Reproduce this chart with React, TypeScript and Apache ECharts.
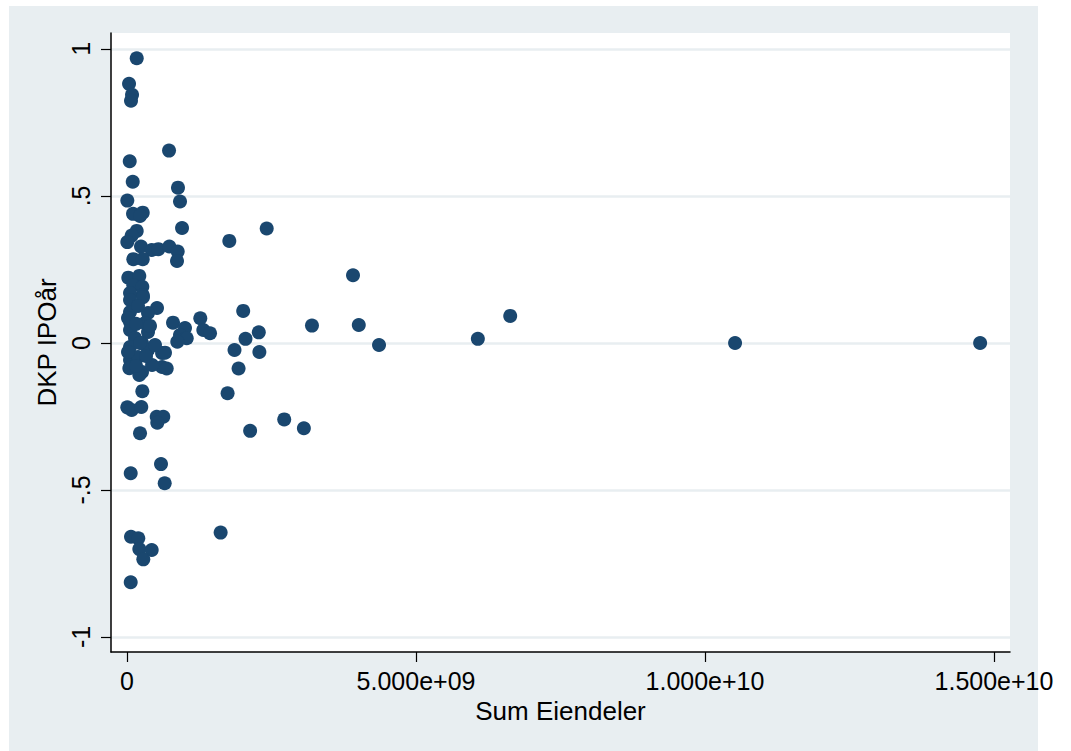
import React, { useEffect, useRef } from "react";
import * as echarts from "echarts";

const xValues: number[] = [
  1.68e8, 0.35e8, 0.87e8, 0.69e8, 7.27e8, 0.47e8, 0.99e8, 8.82e8, 0.05e8, 9.17e8,
  1.04e8, 2.72e8, 2.25e8, 9.52e8, 24.17e8, 1.68e8, 0.81e8, 0.05e8, 17.7e8, 2.42e8,
  4.27e8, 5.42e8, 7.32e8, 8.77e8, 8.65e8, 1.09e8, 2.72e8, 0.22e8, 2.13e8, 1.09e8,
  2.65e8, 2.72e8, 0.52e8, 39.1e8, 0.52e8, 2.77e8, 0.52e8, 5.19e8, 3.63e8, 20.1e8,
  0.52e8, 3.11e8, 7.96e8, 12.68e8, 32.0e8, 40.1e8, 66.3e8, 10.03e8, 9.17e8, 13.2e8,
  14.36e8, 0.52e8, 3.63e8, 1.38e8, 22.8e8, 20.5e8, 10.33e8, 8.7e8, 60.7e8, 43.6e8,
  105.2e8, 147.6e8, 0.52e8, 2.6e8, 3.63e8, 6.06e8, 0.52e8, 1.9e8, 0.52e8, 2.6e8,
  6.06e8, 4.33e8, 18.6e8, 22.9e8, 6.57e8, 19.3e8, 6.87e8, 0.4e8, 2.13e8, 2.65e8,
  17.4e8, 0.05e8, 0.81e8, 2.47e8, 5.14e8, 6.28e8, 5.24e8, 27.2e8, 21.3e8, 30.6e8,
  2.25e8, 5.88e8, 0.64e8, 6.52e8, 16.2e8, 0.69e8, 1.95e8, 2.13e8, 4.27e8, 2.82e8,
  0.64e8, 0.17e8, 1.56e8, 3.29e8, 4.84e8, 0.17e8, 1.9e8, 1.56e8, 2.25e8, 3.98e8,
];

const yValues: number[] = [
  0.968, 0.881, 0.844, 0.824, 0.654, 0.618, 0.548, 0.528, 0.484, 0.481,
  0.439, 0.443, 0.432, 0.391, 0.389, 0.381, 0.365, 0.343, 0.347, 0.328,
  0.316, 0.319, 0.328, 0.311, 0.279, 0.285, 0.285, 0.222, 0.228, 0.196,
  0.191, 0.163, 0.17, 0.23, 0.146, 0.156, 0.105, 0.119, 0.102, 0.109,
  0.071, 0.068, 0.069, 0.084, 0.059, 0.061, 0.092, 0.051, 0.027, 0.044,
  0.033, 0.044, 0.037, 0.017, 0.036, 0.014, 0.016, 0.004, 0.014, -0.007,
  0.0, 0.0, -0.014, 0.0, -0.024, -0.034, -0.058, -0.048, -0.082, -0.099,
  -0.082, -0.075, -0.024, -0.031, -0.033, -0.087, -0.087, -0.086, -0.109, -0.164,
  -0.171, -0.219, -0.228, -0.218, -0.251, -0.251, -0.271, -0.26, -0.299, -0.29,
  -0.307, -0.412, -0.443, -0.477, -0.645, -0.659, -0.664, -0.701, -0.704, -0.736,
  -0.814, -0.031, -0.078, -0.044, -0.007, 0.085, 0.126, 0.065, 0.0, 0.058,
];

const xTickValues: number[] = [0, 5e9, 1e10, 1.5e10];
const xTickLabels: string[] = ["0", "5.000e+09", "1.000e+10", "1.500e+10"];
const yTickValues: number[] = [-1, -0.5, 0, 0.5, 1];
const yTickLabels: string[] = ["-1", "-.5", "0", ".5", "1"];

const xTitle = "Sum Eiendeler";
const yTitle = "DKP IPOår";

const BG = "#e8eef1";
const MARK = "#1a476f";
const FONT = "'Liberation Sans', Arial, sans-serif";

export default function App() {
  const ref = useRef<HTMLDivElement>(null);
  useEffect(() => {
    if (!ref.current) return;
    const chart = echarts.init(ref.current, undefined, { renderer: "svg" });
    const data = xValues.map((x, i) => [x, yValues[i]]);
    const xLabel = (v: number) => {
      const i = xTickValues.indexOf(v);
      return i >= 0 ? xTickLabels[i] : "";
    };
    const yLabel = (v: number) => {
      const i = yTickValues.findIndex((t) => Math.abs(t - v) < 1e-9);
      return i >= 0 ? yTickLabels[i] : "";
    };
    chart.setOption({
      animation: false,
      backgroundColor: "#ffffff",
      graphic: [
        {
          type: "rect",
          z: -10,
          silent: true,
          shape: { x: 9, y: 6, width: 1029, height: 745 },
          style: { fill: BG },
        },
      ],
      grid: {
        left: 111,
        top: 33,
        width: 899,
        height: 619,
        show: true,
        backgroundColor: "#ffffff",
        borderWidth: 0,
      },
      xAxis: {
        type: "value",
        min: -2.77e8,
        max: 1.5277e10,
        name: xTitle,
        nameLocation: "middle",
        nameGap: 42,
        nameTextStyle: { fontFamily: FONT, fontSize: 26, color: "#000" },
        axisLine: { show: true, onZero: false, lineStyle: { color: "#000", width: 1.5 } },
        axisTick: { show: true, length: 10, customValues: xTickValues, lineStyle: { color: "#000", width: 1.2 } },
        axisLabel: {
          customValues: xTickValues,
          formatter: xLabel,
          margin: 16,
          fontFamily: FONT,
          fontSize: 25,
          color: "#000",
        },
        splitLine: { show: false },
      },
      yAxis: {
        type: "value",
        min: -1.051,
        max: 1.054,
        name: yTitle,
        nameLocation: "middle",
        nameGap: 36,
        nameRotate: 90,
        nameTextStyle: { fontFamily: FONT, fontSize: 26, color: "#000" },
        axisLine: { show: true, onZero: false, lineStyle: { color: "#000", width: 1.5 } },
        axisTick: { show: true, length: 10, customValues: yTickValues, lineStyle: { color: "#000", width: 1.2 } },
        axisLabel: {
          customValues: yTickValues,
          formatter: yLabel,
          rotate: 90,
          margin: 18,
          fontFamily: FONT,
          fontSize: 25,
          color: "#000",
        },
        splitLine: { show: true, lineStyle: { color: BG, width: 2.5 } },
      },
      series: [
        {
          type: "scatter",
          data,
          symbol: "circle",
          symbolSize: 14,
          itemStyle: { color: MARK, opacity: 1 },
        },
      ],
    });
    return () => chart.dispose();
  }, []);
  return (
    <div
      ref={ref}
      style={{ position: "absolute", left: 0, top: 0, width: 1071, height: 751 }}
    />
  );
}
